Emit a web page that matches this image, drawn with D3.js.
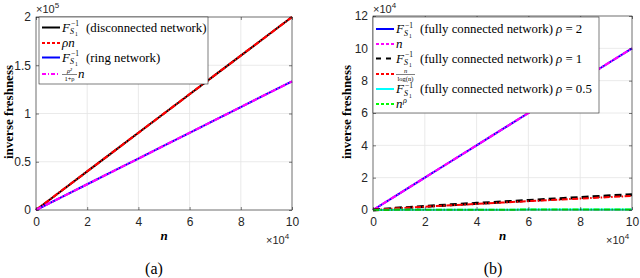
<!DOCTYPE html>
<html>
<head>
<meta charset="utf-8">
<script src="https://cdn.jsdelivr.net/npm/d3@7"></script>
<style>
  body { margin: 0; background: #fff; }
  svg text { font-family: "Liberation Sans", Arial, sans-serif; }
  svg text.serif { font-family: "Liberation Serif", "Times New Roman", serif; }
</style>
</head>
<body>
<div id="chart"></div>
<script>
// n values (x)
var nVals = [0, 10000, 20000, 30000, 40000, 50000, 60000, 70000, 80000, 90000, 100000];

// panel (a)
var disconnected = [0, 20000, 40000, 60000, 80000, 100000, 120000, 140000, 160000, 180000, 200000];
var rhoN = [0, 20000, 40000, 60000, 80000, 100000, 120000, 140000, 160000, 180000, 200000];
var ring = [0, 13300, 26700, 40000, 53300, 66700, 80000, 93300, 106700, 120000, 133300];
var ringApprox = [0, 13300, 26700, 40000, 53300, 66700, 80000, 93300, 106700, 120000, 133300];

// panel (b)
var full2 = [0, 10000, 20000, 30000, 40000, 50000, 60000, 70000, 80000, 90000, 100000];
var nLine = [0, 10000, 20000, 30000, 40000, 50000, 60000, 70000, 80000, 90000, 100000];
var full1 = [0, 1200, 2200, 3200, 4100, 5000, 5900, 6800, 7700, 8600, 9500];
var nLog = [0, 1090, 2020, 2910, 3780, 4620, 5450, 6270, 7070, 7870, 8690];
var full05 = [0, 100, 140, 170, 200, 220, 240, 260, 280, 300, 320];
var nRho = [0, 100, 140, 170, 200, 220, 240, 260, 280, 300, 320];

var xTicks = [0, 2, 4, 6, 8, 10];
var yTicksA = [0, 0.5, 1, 1.5, 2];
var yTicksB = [0, 2, 4, 6, 8, 10, 12];

var width = 640, height = 278;
var svg = d3.select('#chart').append('svg')
    .attr('width', width).attr('height', height);

var axisColor = '#262626';

function panel(opt) {
    var g = svg.append('g');
    var x = d3.scaleLinear().domain([0, 100000]).range([opt.left, opt.right]);
    var y = d3.scaleLinear().domain([0, opt.ymax]).range([210, opt.top]);

    // grid
    xTicks.forEach(function(t) {
        g.append('line').attr('x1', x(t * 1e4)).attr('x2', x(t * 1e4))
            .attr('y1', y(0)).attr('y2', y(opt.ymax))
            .style('stroke', '#e5e5e5').style('stroke-width', 0.8);
    });
    opt.yTicks.forEach(function(t) {
        g.append('line').attr('x1', x(0)).attr('x2', x(100000))
            .attr('y1', y(t * opt.yMul)).attr('y2', y(t * opt.yMul))
            .style('stroke', '#e5e5e5').style('stroke-width', 0.8);
    });

    // series
    var line = d3.line()
        .x(function(d, i) { return x(nVals[i]); })
        .y(function(d) { return y(d); });
    opt.series.forEach(function(s) {
        g.append('path').datum(s.data)
            .attr('d', line)
            .style('fill', 'none')
            .style('stroke', s.color)
            .style('stroke-width', s.w)
            .style('stroke-dasharray', s.dash || null);
    });

    // box + ticks
    g.append('rect').attr('x', x(0)).attr('y', y(opt.ymax))
        .attr('width', x(100000) - x(0)).attr('height', y(0) - y(opt.ymax))
        .style('fill', 'none').style('stroke', axisColor).style('stroke-width', 0.6);

    var xAxis = d3.axisBottom(x).tickValues(xTicks.map(function(t) { return t * 1e4; }))
        .tickSize(-3).tickPadding(7).tickFormat(function(d) { return d / 1e4; });
    var xa = g.append('g').attr('transform', 'translate(0,' + y(0) + ')').call(xAxis);
    var xTop = d3.axisTop(x).tickValues(xTicks.map(function(t) { return t * 1e4; }))
        .tickSize(-3).tickFormat('');
    var xt = g.append('g').attr('transform', 'translate(0,' + y(opt.ymax) + ')').call(xTop);

    var yAxis = d3.axisLeft(y).tickValues(opt.yTicks.map(function(t) { return t * opt.yMul; }))
        .tickSize(-3).tickPadding(5).tickFormat(function(d) { return d / opt.yMul; });
    var ya = g.append('g').attr('transform', 'translate(' + x(0) + ',0)').call(yAxis);
    var yRight = d3.axisRight(y).tickValues(opt.yTicks.map(function(t) { return t * opt.yMul; }))
        .tickSize(-3).tickFormat('');
    var yr = g.append('g').attr('transform', 'translate(' + x(100000) + ',0)').call(yRight);

    [xa, xt, ya, yr].forEach(function(a) {
        a.select('.domain').remove();
        a.selectAll('line').style('stroke', axisColor).style('stroke-width', 0.6);
        a.selectAll('text').style('font-size', '12px').style('fill', axisColor);
    });

    // exponents
    var ex = g.append('text').attr('x', x(0)).attr('y', 13)
        .style('font-size', '11px').style('fill', axisColor);
    ex.append('tspan').text('\u00d710');
    ex.append('tspan').attr('dy', -5).style('font-size', '8px').text(opt.yExp);

    var ex2 = g.append('text').attr('x', x(100000) - 26).attr('y', 244)
        .style('font-size', '11px').style('fill', axisColor);
    ex2.append('tspan').text('\u00d710');
    ex2.append('tspan').attr('dy', -5).style('font-size', '8px').text('4');

    // labels
    g.append('text').attr('class', 'serif')
        .attr('x', (x(0) + x(100000)) / 2).attr('y', 240)
        .attr('text-anchor', 'middle')
        .style('font-size', '13px').style('font-style', 'italic').style('font-weight', 'bold')
        .text('n');
    g.append('text').attr('class', 'serif')
        .attr('transform', 'translate(' + opt.ylabX + ',112) rotate(-90)')
        .attr('text-anchor', 'middle')
        .style('font-size', '13px').style('font-weight', 'bold')
        .text('inverse freshness');
    g.append('text').attr('class', 'serif')
        .attr('x', opt.capX).attr('y', 274)
        .attr('text-anchor', 'middle')
        .style('font-size', '16px')
        .text(opt.caption);

    // legend
    var lg = g.append('g');
    lg.append('rect').attr('x', opt.leg.x).attr('y', opt.leg.y)
        .attr('width', opt.leg.w).attr('height', opt.leg.h)
        .style('fill', '#fff').style('stroke', axisColor).style('stroke-width', 0.6);
    opt.series.forEach(function(s, i) {
        var yy = opt.leg.rows[i];
        lg.append('line').attr('x1', opt.leg.x + 3).attr('x2', opt.leg.x + 21)
            .attr('y1', yy).attr('y2', yy)
            .style('stroke', s.color).style('stroke-width', 2)
            .style('stroke-dasharray', s.legDash || null);
        s.label(lg, opt.leg.x + 23, yy + 4);
    });
}

// math label helpers
function txt(g, x, y, size, str, italic) {
    return g.append('text').attr('class', 'serif').attr('x', x).attr('y', y)
        .style('font-size', size + 'px').style('font-style', italic ? 'italic' : 'normal')
        .style('fill', '#000').text(str);
}
function fInv(g, x, y, rest, rho) {
    txt(g, x, y, 13, 'F', true);
    txt(g, x + 9, y - 5.5, 7.5, '\u22121', false);
    txt(g, x + 8, y + 2.5, 8, 'S', true);
    txt(g, x + 13, y + 4.5, 5.5, '1', false);
    var t = txt(g, x + 24, y, 12.8, rest, false);
    if (rho) {
        t.append('tspan').style('font-style', 'italic').text(' \u03c1');
        t.append('tspan').text(' = ' + rho);
    }
}
function frac(g, x, y, num, den, numIt, w) {
    txt(g, x + w / 2, y - 5, 6.5, num, numIt).attr('text-anchor', 'middle');
    g.append('line').attr('x1', x).attr('x2', x + w).attr('y1', y - 3.5).attr('y2', y - 3.5)
        .style('stroke', '#000').style('stroke-width', 0.5);
    txt(g, x + w / 2, y + 2.5, 6.5, den, false).attr('text-anchor', 'middle');
}

panel({
    left: 36, right: 292, top: 17, ymax: 200000, yMul: 1e5, yTicks: yTicksA, yExp: '5',
    ylabX: 13, capX: 154, caption: '(a)',
    leg: { x: 39, y: 17, w: 169, h: 67, rows: [27.5, 43, 57.5, 74] },
    series: [
        { data: disconnected, color: '#000', w: 2,
          label: function(g, x, y) { fInv(g, x, y, '(disconnected network)'); } },
        { data: rhoN, color: '#ff0000', w: 2.2, dash: '6,1.5,1.5,1.5', legDash: '3,2',
          label: function(g, x, y) { txt(g, x, y, 13, '\u03c1n', true); } },
        { data: ring, color: '#0000ff', w: 2,
          label: function(g, x, y) { fInv(g, x, y, '(ring network)'); } },
        { data: ringApprox, color: '#ff00ff', w: 2.2, dash: '6,1.5,1.5,1.5', legDash: '4,2,1,2',
          label: function(g, x, y) {
              frac(g, x, y, '\u03c1\u00b2', '1+\u03c1', true, 15);
              txt(g, x + 16, y, 13, 'n', true);
          } }
    ]
});

panel({
    left: 373, right: 632, top: 16, ymax: 120000, yMul: 1e4, yTicks: yTicksB, yExp: '4',
    ylabX: 351, capX: 493, caption: '(b)',
    leg: { x: 373, y: 17, w: 226, h: 96, rows: [29, 44, 58.5, 74, 89, 104] },
    series: [
        { data: full2, color: '#0000ff', w: 2,
          label: function(g, x, y) { fInv(g, x, y, '(fully connected network)', '2'); } },
        { data: nLine, color: '#ff00ff', w: 2.2, dash: '6,1.5,1.5,1.5', legDash: '3,2',
          label: function(g, x, y) { txt(g, x, y, 13, 'n', true); } },
        { data: full1, color: '#000', w: 3, dash: '7,4', legDash: '5,5',
          label: function(g, x, y) { fInv(g, x, y, '(fully connected network)', '1'); } },
        { data: nLog, color: '#ff0000', w: 2, dash: '6,1.5,1.5,1.5', legDash: '3,2',
          label: function(g, x, y) { frac(g, x, y, 'n', 'log(n)', true, 19); } },
        { data: full05, color: '#00ffff', w: 2,
          label: function(g, x, y) { fInv(g, x, y, '(fully connected network)', '0.5'); } },
        { data: nRho, color: '#00ff00', w: 2, dash: '6,1.5,1.5,1.5', legDash: '3,2',
          label: function(g, x, y) {
              txt(g, x, y, 13, 'n', true);
              txt(g, x + 7, y - 5, 8, '\u03c1', true);
          } }
    ]
});
</script>
</body>
</html>
